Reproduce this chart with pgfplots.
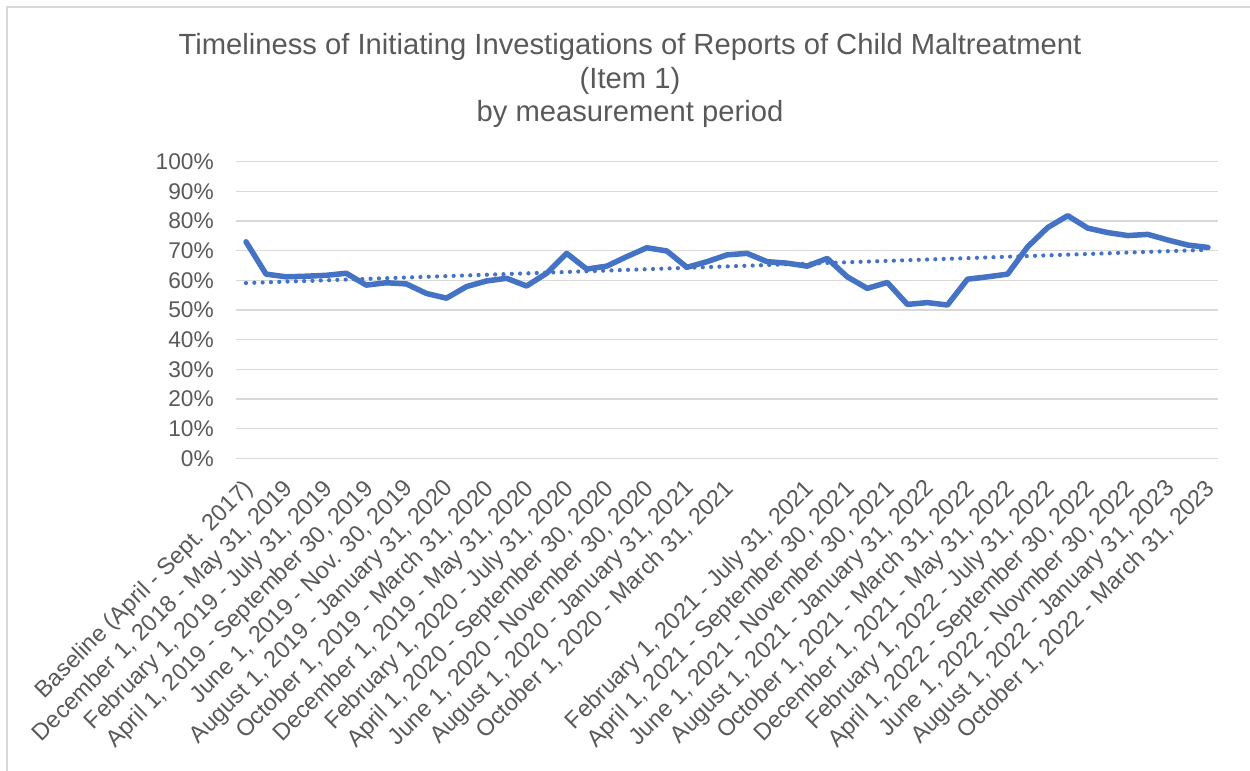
\documentclass[border=0pt]{standalone}
\usepackage{fontspec}
\setmainfont{Liberation Sans}
\usepackage{pgfplots}
\pgfplotsset{compat=1.18}
\definecolor{txt}{HTML}{595959}
\definecolor{grd}{HTML}{D9D9D9}
\definecolor{ln}{HTML}{4472C4}
\pgfplotstableread{
x y
0 73.0
1 62.1
2 61.2
3 61.4
4 61.7
5 62.4
6 58.4
7 59.2
8 58.8
9 55.6
10 54.0
11 57.9
12 59.8
13 60.7
14 58.1
15 62.4
16 69.1
17 63.8
18 64.8
19 68.0
20 71.0
21 69.9
22 64.4
23 66.3
24 68.6
25 69.1
26 66.3
27 65.8
28 64.8
29 67.4
30 61.2
31 57.3
32 59.3
33 51.9
34 52.5
35 51.7
36 60.4
37 61.2
38 62.1
39 71.3
40 77.8
41 81.8
42 77.6
43 76.1
44 75.1
45 75.5
46 73.6
47 71.9
48 71.1
}\datatable
\begin{document}
\begin{tikzpicture}[x=1bp,y=1bp]
\useasboundingbox (0,0) rectangle (1250,771);
\draw[grd, line width=1.3bp] (7,-20) -- (7,764) -- (1270,764);
\node[anchor=base, text=txt, font=\fontsize{29.3}{35}\selectfont, inner sep=0pt] at (630,716) {Timeliness of Initiating Investigations of Reports of Child Maltreatment};
\node[anchor=base, text=txt, font=\fontsize{29.3}{35}\selectfont, inner sep=0pt] at (630,682.5) {(Item 1)};
\node[anchor=base, text=txt, font=\fontsize{29.3}{35}\selectfont, inner sep=0pt] at (630,649) {by measurement period};
\begin{axis}[
  at={(236bp,312.6bp)}, anchor=south west,
  scale only axis, width=982bp, height=296.7bp,
  xmin=-0.5, xmax=48.5, ymin=0, ymax=100,
  axis line style={draw=none},
  major tick length=0pt,
  ymajorgrids, grid style={grd, line width=1.3bp},
  ytick={0,10,...,100},
  yticklabel={\pgfmathprintnumber{\tick}\%},
  /pgf/number format/assume math mode=true,
  yticklabel style={anchor=east, inner sep=0pt, xshift=-22bp, text=txt, font=\fontsize{22.8}{26}\selectfont},
  xtick={0,2,...,48},
  xticklabels={{Baseline (April - Sept. 2017)},{December 1, 2018 - May 31, 2019},{February 1, 2019 - July 31, 2019},{April 1, 2019 - September 30, 2019},{June 1, 2019 - Nov. 30, 2019},{August 1, 2019 - January 31, 2020},{October 1, 2019 - March 31, 2020},{December 1, 2019 - May 31, 2020},{February 1, 2020 - July 31, 2020},{April 1, 2020 - September 30, 2020},{June 1, 2020 - November 30, 2020},{August 1, 2020 - January 31, 2021},{October 1, 2020 - March 31, 2021},{},{February 1, 2021 - July 31, 2021},{April 1, 2021 - September 30, 2021},{June 1, 2021 - November 30, 2021},{August 1, 2021 - January 31, 2022},{October 1, 2021 - March 31, 2022},{December 1, 2021 - May 31, 2022},{February 1, 2022 - July 31, 2022},{April 1, 2022 - September 30, 2022},{June 1, 2022 - Novmber 30, 2022},{August 1, 2022 - January 31, 2023},{October 1, 2022 - March 31, 2023}},
  xticklabel style={xshift=-4bp, yshift=-19bp, rotate=45, anchor=north east, inner sep=0pt, text=txt, font=\fontsize{23.6}{27}\selectfont},
  clip=false,
]
\addplot[ln, line width=4.2bp, dash pattern=on 0.01bp off 8.3bp, line cap=round, no marks] coordinates {(0,59.1) (48,70.3)};
\addplot[ln, line width=5.5bp, line join=round, line cap=round, no marks] table[x=x,y=y] {\datatable};
\end{axis}
\end{tikzpicture}
\end{document}
